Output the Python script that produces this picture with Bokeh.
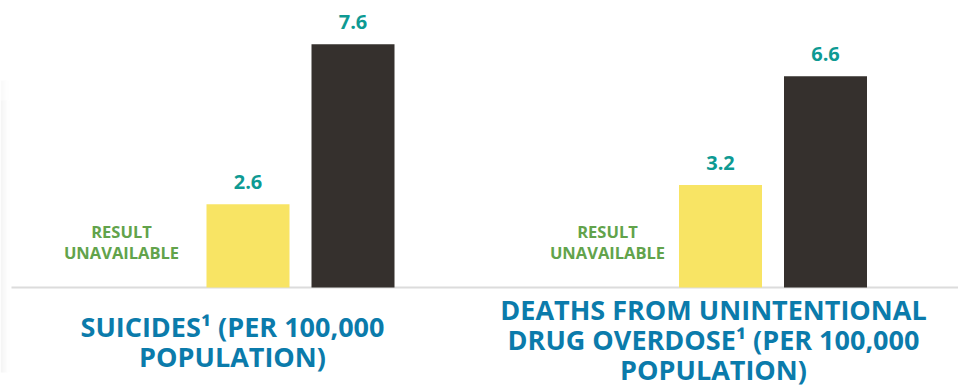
from bokeh.plotting import figure
from bokeh.models import Range1d
from bokeh.core.properties import value
from bokeh.embed import file_html
from bokeh.resources import INLINE

# ---- data ----
groups = ["Suicides", "Deaths from unintentional drug overdose"]
title_lines = [
    ["SUICIDES¹ (PER 100,000", "POPULATION)"],
    ["DEATHS FROM UNINTENTIONAL", "DRUG OVERDOSE¹ (PER 100,000", "POPULATION)"],
]
unavailable_label = ["RESULT", "UNAVAILABLE"]
series_yellow = [2.6, 3.2]
series_dark = [7.6, 6.6]
value_labels_yellow = ["2.6", "3.2"]
value_labels_dark = ["7.6", "6.6"]

# ---- layout (screen-like coordinates on x, values on y) ----
YELLOW = "#f8e464"
DARK = "#35302d"
TEAL = "#0e9a93"
GREEN = "#62a34b"
BLUE = "#0b7bab"
FONT = value("Open Sans")

W, H = 958, 387
BASE = 287  # baseline pixel row
bar_x_yellow = [247.5, 720]
bar_x_dark = [352.5, 825]
unavail_x = [121, 607]
title_x = [232, 713]
BAR_W = 83
PX = 32.0  # pixels per unit


def yv(py):
    return (BASE - py) / PX


p = figure(width=W, height=H, output_backend="svg", toolbar_location=None,
           x_range=Range1d(0, W), y_range=Range1d(yv(H), yv(0)),
           min_border=0, min_border_left=0, min_border_right=0,
           min_border_top=0, min_border_bottom=0)
p.axis.visible = False
p.grid.visible = False
p.outline_line_color = None
p.background_fill_color = "white"
p.border_fill_color = "white"

# left-edge shadow (soft, fading at top and bottom)
for i, a in enumerate([0.09, 0.08, 0.065, 0.05, 0.04, 0.03, 0.02, 0.012, 0.006]):
    p.quad(left=[i], right=[i + 1], bottom=[yv(372)], top=[yv(100)],
           fill_color="#808080", fill_alpha=a, line_color=None)
    p.quad(left=[i], right=[i + 1], bottom=[yv(100)], top=[yv(80)],
           fill_color="#808080", fill_alpha=a * 0.5, line_color=None)

# baseline
p.segment(x0=[11], x1=[W], y0=[yv(287)], y1=[yv(287)], line_color="#dcdcdc", line_width=2)

# bars
p.vbar(x=bar_x_yellow, top=series_yellow, bottom=0, width=BAR_W, fill_color=YELLOW, line_color=None)
p.vbar(x=bar_x_dark, top=series_dark, bottom=0, width=BAR_W, fill_color=DARK, line_color=None)

# value labels
for xs, ys, ts in [(bar_x_yellow, series_yellow, value_labels_yellow),
                   (bar_x_dark, series_dark, value_labels_dark)]:
    p.text(x=xs, y=ys, text=ts, text_align="center", text_baseline="middle",
           y_offset=-22, text_font=FONT, text_font_style="bold",
           text_font_size="20px", text_color=TEAL)

# result unavailable
for g in range(len(groups)):
    for j, line in enumerate(unavailable_label):
        p.text(x=[unavail_x[g]], y=[yv(231 + 21 * j)], text=[line],
               text_align="center", text_baseline="middle", text_font=FONT,
               text_font_style="bold", text_font_size="16.5px", text_color=GREEN)

# category titles
title_top = [326, 309]
for g in range(len(groups)):
    for j, line in enumerate(title_lines[g]):
        p.text(x=[title_x[g]], y=[yv(title_top[g] + 30 * j)], text=[line],
               text_align="center", text_baseline="middle", text_font=FONT,
               text_font_style="bold", text_font_size="27px", text_color=BLUE)

open("out.html", "w").write(file_html(p, INLINE))
